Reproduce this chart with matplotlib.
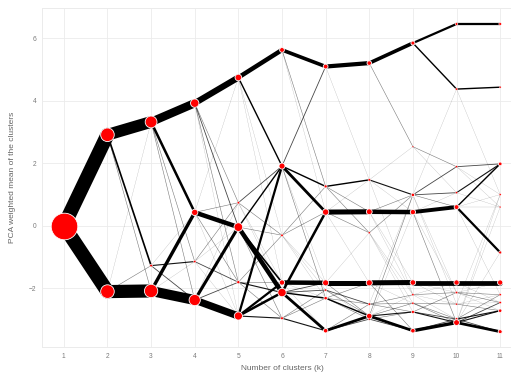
import matplotlib
matplotlib.use("Agg")
import matplotlib.pyplot as plt

# ---- data: cluster means (PCA weighted) per number of clusters k ----
means_k1 = [0.0]
means_k2 = [2.91, -2.10]
means_k3 = [3.32, -1.27, -2.08]
means_k4 = [3.92, 0.43, -1.14, -2.37]
means_k5 = [4.74, 0.74, -0.04, -1.80, -2.88]
means_k6 = [5.62, 1.91, -0.30, -1.81, -2.13, -2.95]
means_k7 = [5.09, 1.26, 0.44, -1.82, -2.05, -2.31, -3.35]
means_k8 = [5.20, 1.47, 0.45, -0.22, -1.82, -2.50, -2.88, -2.98]
means_k9 = [5.84, 2.53, 0.99, 0.44, -1.81, -2.20, -2.47, -2.75, -3.35]
means_k10 = [6.45, 4.37, 1.89, 1.06, 0.60, -1.81, -2.13, -2.50, -2.98, -3.09]
means_k11 = [6.45, 4.43, 1.98, 1.00, 0.60, -0.85, -1.81, -2.20, -2.45, -2.71, -3.38]

# ---- data: shared observations between clusters of k and k+1 (from, to, count) ----
links_1_2 = [(0, 0, 50), (0, 1, 50)]
links_2_3 = [(0, 0, 42), (0, 1, 6), (0, 2, 2), (1, 0, 1), (1, 1, 2), (1, 2, 47)]
links_3_4 = [(0, 0, 30), (0, 1, 9), (0, 2, 2), (0, 3, 2), (1, 1, 1), (1, 2, 4),
             (1, 3, 3), (2, 1, 12), (2, 2, 1), (2, 3, 36)]
links_4_5 = [(0, 0, 22), (0, 1, 2), (0, 2, 3), (0, 3, 2), (0, 4, 1), (1, 0, 1),
             (1, 1, 2), (1, 2, 16), (1, 3, 2), (1, 4, 1), (2, 1, 2), (2, 2, 1),
             (2, 3, 3), (2, 4, 1), (3, 1, 1), (3, 2, 11), (3, 3, 3), (3, 4, 26)]
links_5_6 = [(0, 0, 16), (0, 1, 5), (0, 2, 1), (0, 3, 1), (1, 1, 3), (1, 2, 2),
             (1, 3, 1), (1, 4, 1), (2, 1, 5), (2, 2, 2), (2, 3, 6), (2, 4, 16),
             (2, 5, 2), (3, 2, 2), (3, 3, 2), (3, 4, 4), (3, 5, 2), (4, 1, 8),
             (4, 3, 8), (4, 4, 9), (4, 5, 4)]
links_6_7 = [(0, 0, 13), (0, 1, 2), (0, 2, 1), (1, 0, 3), (1, 1, 5), (1, 2, 10),
             (1, 3, 1), (1, 5, 2), (2, 1, 2), (2, 2, 2), (2, 3, 1), (2, 4, 1),
             (2, 5, 1), (3, 3, 16), (3, 5, 1), (3, 6, 1), (4, 2, 9), (4, 3, 3),
             (4, 4, 3), (4, 5, 5), (4, 6, 10), (5, 4, 2), (5, 5, 2), (5, 6, 4)]
links_7_8 = [(0, 0, 15), (0, 1, 1), (1, 1, 5), (1, 2, 2), (1, 3, 2), (2, 1, 1),
             (2, 2, 18), (2, 3, 2), (2, 4, 1), (3, 3, 1), (3, 4, 18), (3, 6, 2),
             (4, 5, 3), (4, 6, 2), (4, 7, 1), (5, 4, 2), (5, 5, 2), (5, 6, 5),
             (5, 7, 2), (6, 5, 2), (6, 6, 10), (6, 7, 3)]
links_8_9 = [(0, 0, 13), (0, 1, 2), (1, 1, 1), (1, 2, 4), (1, 3, 1), (1, 5, 1),
             (2, 2, 2), (2, 3, 16), (2, 4, 1), (2, 5, 1), (3, 2, 2), (3, 5, 1),
             (3, 6, 1), (3, 7, 1), (4, 4, 18), (4, 6, 1), (4, 8, 2), (5, 2, 1),
             (5, 5, 2), (5, 6, 2), (5, 7, 2), (6, 2, 2), (6, 5, 1), (6, 6, 2),
             (6, 7, 4), (6, 8, 10), (7, 3, 1), (7, 7, 2), (7, 8, 3)]
links_9_10 = [(0, 0, 8), (0, 1, 5), (1, 2, 2), (1, 3, 1), (2, 1, 1), (2, 2, 3),
              (2, 3, 3), (2, 4, 2), (2, 7, 1), (2, 6, 1), (3, 3, 1), (3, 4, 14),
              (3, 9, 2), (3, 6, 1), (4, 5, 17), (4, 6, 1), (4, 7, 1), (5, 5, 1),
              (5, 6, 2), (5, 7, 1), (5, 8, 1), (6, 7, 2), (6, 8, 2), (6, 9, 2),
              (7, 6, 2), (7, 8, 3), (7, 9, 4), (8, 8, 3), (8, 9, 12)]
links_10_11 = [(0, 0, 8), (1, 1, 5), (1, 3, 1), (2, 2, 3), (2, 3, 1), (2, 4, 1),
               (3, 2, 4), (3, 4, 1), (4, 2, 5), (4, 5, 8), (4, 4, 1), (4, 3, 1),
               (4, 7, 1), (5, 6, 17), (5, 8, 1), (6, 7, 2), (6, 8, 2), (6, 6, 1),
               (6, 9, 1), (7, 7, 1), (7, 9, 2), (7, 3, 1), (7, 8, 1), (8, 9, 4),
               (8, 10, 3), (8, 7, 2), (9, 10, 10), (9, 9, 4), (9, 8, 3), (9, 5, 1),
               (9, 4, 1), (9, 3, 1)]

x_ticks = list(range(1, 12))
y_ticks = [-2, 0, 2, 4, 6]
x_label = "Number of clusters (k)"
y_label = "PCA weighted mean of the clusters"

all_means = [means_k1, means_k2, means_k3, means_k4, means_k5, means_k6,
             means_k7, means_k8, means_k9, means_k10, means_k11]
all_links = [links_1_2, links_2_3, links_3_4, links_4_5, links_5_6, links_6_7,
             links_7_8, links_8_9, links_9_10, links_10_11]
total_n = 100

# cluster sizes derived from incoming links
sizes = [[total_n]]
for k, links in enumerate(all_links):
    s = [0] * len(all_means[k + 1])
    for a, b, c in links:
        s[b] += c
    sizes.append(s)

plt.rcParams["font.family"] = ["Liberation Sans", "DejaVu Sans"]
fig = plt.figure(figsize=(5.11, 3.74), dpi=100)
fig.patch.set_facecolor("white")
ax = fig.add_axes([42 / 511, 1 - 347 / 374, (522 - 42) / 511, (347 - 8) / 374])
ax.set_facecolor("white")

# lines
segs = []
for k, links in enumerate(all_links):
    for a, b, c in links:
        segs.append((c, k + 1, all_means[k][a], k + 2, all_means[k + 1][b]))
segs.sort(key=lambda t: t[0])
for c, x0, y0, x1, y1 in segs:
    ax.plot([x0, x1], [y0, y1], color="black", lw=0.2016 * c,
            alpha=min(1.0, 0.12 + c * 0.2), solid_capstyle="round", zorder=2)

# nodes
for k, (m, s) in enumerate(zip(all_means, sizes)):
    d_pt = [(0.6 + 0.26 * v) * 0.72 for v in s]
    ax.scatter([k + 1] * len(m), m, s=[d * d for d in d_pt], color="red",
               edgecolors="white", linewidths=[min(0.6, 0.05 * v) for v in s],
               zorder=3)

ax.set_xlim(0.5, 11.5)
ax.set_ylim(-3.87, 6.96)
ax.set_xticks(x_ticks)
ax.set_yticks(y_ticks)
ax.grid(True, color="#ebebeb", lw=0.6, zorder=0)
ax.set_axisbelow(True)
for sp in ax.spines.values():
    sp.set_color("#ebebeb")
    sp.set_linewidth(0.7)
ax.tick_params(length=0, labelsize=4.8, labelcolor="#7a7a7a", pad=4)
ax.set_xlabel(x_label, fontsize=6, color="#666666", labelpad=4)
ax.set_ylabel(y_label, fontsize=6, color="#666666", labelpad=9)

fig.savefig("out.png", dpi=100, facecolor="white")
